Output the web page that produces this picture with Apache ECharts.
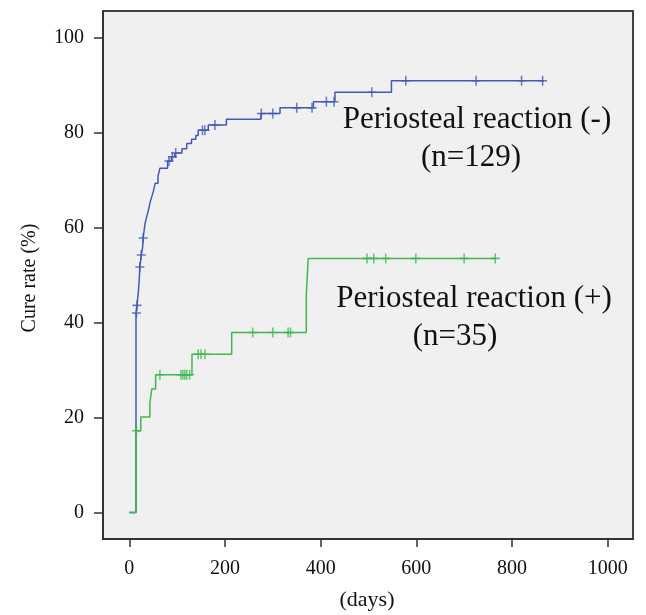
<!DOCTYPE html>
<html>
<head>
<meta charset="utf-8">
<script src="https://cdn.jsdelivr.net/npm/echarts@6/dist/echarts.min.js"></script>
<style>
html,body{margin:0;padding:0;background:#fff;}
#chart{width:646px;height:615px;}
</style>
</head>
<body>
<div id="chart"></div>
<script>
// Periosteal reaction (-) : Kaplan-Meier cumulative cure rate steps
const blueDays = [0, 14, 16, 19, 21, 22, 25, 28, 29, 33, 37, 40, 44, 47, 50, 54, 60, 64, 80, 88, 95, 110, 120, 130, 139, 144, 165, 203, 275, 315, 385, 430, 548, 867];
const bluePct  = [0, 42.0, 43.6, 46.5, 49.5, 51.7, 54.2, 56.0, 57.8, 60.9, 62.5, 63.7, 65.5, 66.5, 67.5, 69.3, 70.8, 72.5, 74.0, 74.9, 75.7, 76.6, 77.7, 78.6, 79.4, 80.5, 81.6, 82.8, 84.0, 85.2, 86.5, 88.5, 90.9, 90.9];
const blueCensorDays = [15, 16, 22, 25, 29, 83, 90, 97, 153, 158, 179, 276, 300, 350, 382, 412, 428, 507, 578, 725, 820, 864];
const blueCensorPct  = [42.0, 43.6, 51.7, 54.2, 57.8, 74.0, 74.9, 75.7, 80.5, 80.5, 81.6, 84.0, 84.0, 85.2, 85.2, 86.5, 86.5, 88.5, 90.9, 90.9, 90.9, 90.9];

// Periosteal reaction (+)
const greenDays = [0, 14, 24, 43, 47, 55, 131, 214, 370, 374, 767];
const greenPct  = [0, 17.2, 20.1, 23.0, 26.0, 29.0, 33.3, 37.9, 45.8, 53.5, 53.5];
const greenCensorDays = [15, 64, 108, 112, 116, 120, 126, 144, 150, 158, 258, 300, 332, 337, 497, 511, 536, 599, 700, 765];
const greenCensorPct  = [17.2, 29.0, 29.0, 29.0, 29.0, 29.0, 29.0, 33.3, 33.3, 33.3, 37.9, 37.9, 37.9, 37.9, 53.5, 53.5, 53.5, 53.5, 53.5, 53.5];

const xTicks = [0, 200, 400, 600, 800, 1000];
const yTicks = [0, 20, 40, 60, 80, 100];

const labelNeg = ['Periosteal reaction (-)', '(n=129)'];
const labelPos = ['Periosteal reaction (+)', '(n=35)'];
const yName = 'Cure rate (%)';
const xName = '(days)';

const pairs = (a, b) => a.map((v, i) => [v, b[i]]);

const BLUE = '#4459b4';
const GREEN = '#40b850';
const FONT = '"Liberation Serif", "Times New Roman", serif';
const plus = 'path://M4,0h1.6v10h-1.6z M0,4.2h9.6v1.6h-9.6z';

const chart = echarts.init(document.getElementById('chart'));
chart.setOption({
  animation: false,
  backgroundColor: '#ffffff',
  grid: {
    left: 103, right: 13, top: 11, bottom: 76,
    show: true, backgroundColor: '#f0f0f0', borderColor: '#444', borderWidth: 2
  },
  xAxis: {
    type: 'value', min: -55, max: 1053,
    splitLine: { show: false },
    axisLine: { show: true, onZero: false, lineStyle: { color: '#333', width: 2 } },
    axisTick: { show: true, length: 8, customValues: xTicks, lineStyle: { color: '#333', width: 1.5 } },
    axisLabel: { customValues: xTicks, formatter: v => String(v), margin: 20, fontFamily: FONT, fontSize: 20, color: '#111' }
  },
  yAxis: {
    type: 'value', min: -5.6, max: 105.6,
    splitLine: { show: false },
    axisLine: { show: true, onZero: false, lineStyle: { color: '#333', width: 2 } },
    axisTick: { show: true, length: 9, customValues: yTicks, lineStyle: { color: '#333', width: 1.5 } },
    axisLabel: { customValues: yTicks, formatter: v => String(v), margin: 19, fontFamily: FONT, fontSize: 20, color: '#111' }
  },
  series: [
    {
      type: 'line', step: 'end', data: pairs(blueDays, bluePct),
      showSymbol: false, lineStyle: { color: BLUE, width: 1.5 }, z: 2
    },
    {
      type: 'scatter', data: pairs(blueCensorDays, blueCensorPct),
      symbol: plus, symbolSize: [9, 10], itemStyle: { color: BLUE }, z: 3
    },
    {
      type: 'line', step: 'end', data: pairs(greenDays, greenPct),
      showSymbol: false, lineStyle: { color: GREEN, width: 1.5 }, z: 4
    },
    {
      type: 'scatter', data: pairs(greenCensorDays, greenCensorPct),
      symbol: plus, symbolSize: [9, 10], itemStyle: { color: GREEN }, z: 5
    }
  ],
  graphic: [
    { type: 'text', x: 477, y: 120, z: 10, style: { text: labelNeg[0], font: '31px ' + FONT, fill: '#111', align: 'center', verticalAlign: 'middle' } },
    { type: 'text', x: 471, y: 158, z: 10, style: { text: labelNeg[1], font: '31px ' + FONT, fill: '#111', align: 'center', verticalAlign: 'middle' } },
    { type: 'text', x: 474, y: 299, z: 10, style: { text: labelPos[0], font: '31px ' + FONT, fill: '#111', align: 'center', verticalAlign: 'middle' } },
    { type: 'text', x: 455, y: 337, z: 10, style: { text: labelPos[1], font: '31px ' + FONT, fill: '#111', align: 'center', verticalAlign: 'middle' } },
    { type: 'text', x: 30, y: 278, rotation: Math.PI / 2, z: 10, style: { text: yName, font: '20px ' + FONT, fill: '#111', align: 'center', verticalAlign: 'middle' } },
    { type: 'text', x: 367, y: 600, z: 10, style: { text: xName, font: '22px ' + FONT, fill: '#111', align: 'center', verticalAlign: 'middle' } }
  ]
});
</script>
</body>
</html>
